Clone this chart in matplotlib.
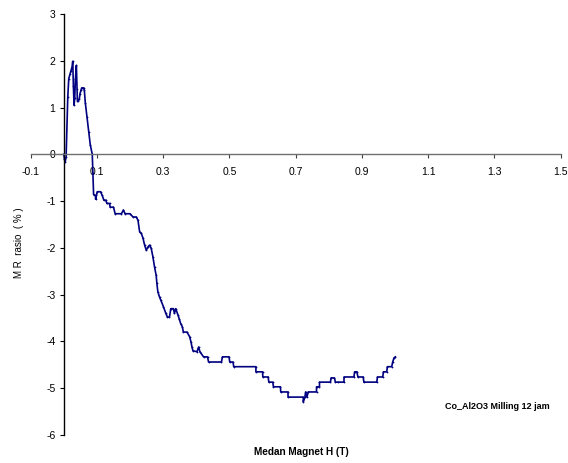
import matplotlib
matplotlib.use('Agg')
import matplotlib.pyplot as plt

# magnetoresistance sweep, Co/Al2O3 after 12 h milling
field_t = [0.000, 0.002, 0.004, 0.007, 0.012, 0.015, 0.019, 0.022, 0.025, 0.027,
           0.029, 0.031, 0.033, 0.035, 0.038, 0.040, 0.041, 0.044, 0.047, 0.049,
           0.052, 0.054, 0.060, 0.062, 0.065, 0.070, 0.075, 0.080, 0.086, 0.088,
           0.090, 0.096, 0.096, 0.101, 0.111, 0.116, 0.121, 0.127, 0.130, 0.138,
           0.140, 0.150, 0.155, 0.174, 0.180, 0.185, 0.200, 0.209, 0.219, 0.224,
           0.229, 0.234, 0.239, 0.244, 0.249, 0.254, 0.259, 0.264, 0.269, 0.274,
           0.279, 0.281, 0.284, 0.289, 0.293, 0.301, 0.308, 0.313, 0.319, 0.323,
           0.331, 0.334, 0.338, 0.345, 0.348, 0.353, 0.358, 0.361, 0.372, 0.380,
           0.384, 0.387, 0.390, 0.402, 0.407, 0.411, 0.422, 0.434, 0.437, 0.476,
           0.479, 0.499, 0.501, 0.511, 0.513, 0.580, 0.580, 0.600, 0.601, 0.617,
           0.619, 0.631, 0.633, 0.654, 0.655, 0.677, 0.677, 0.723, 0.723, 0.728,
           0.730, 0.734, 0.738, 0.763, 0.763, 0.772, 0.772, 0.805, 0.807, 0.817,
           0.820, 0.827, 0.846, 0.846, 0.876, 0.878, 0.885, 0.888, 0.904, 0.906,
           0.945, 0.947, 0.963, 0.965, 0.975, 0.977, 0.990, 0.993, 0.997, 1.001]
mr_ratio = [0.00, -0.10, -0.17, -0.05, 1.22, 1.62, 1.72, 1.79, 1.87, 1.99,
            1.45, 1.05, 1.20, 1.60, 1.90, 1.40, 1.15, 1.15, 1.19, 1.30,
            1.37, 1.42, 1.42, 1.37, 1.10, 0.80, 0.48, 0.20, 0.00, -0.40,
            -0.86, -0.88, -0.96, -0.80, -0.80, -0.88, -0.98, -0.98, -1.05, -1.05,
            -1.13, -1.13, -1.27, -1.27, -1.19, -1.27, -1.27, -1.34, -1.34, -1.41,
            -1.66, -1.69, -1.79, -1.94, -2.05, -1.98, -1.94, -2.01, -2.19, -2.41,
            -2.59, -2.76, -2.94, -3.05, -3.12, -3.26, -3.40, -3.48, -3.48, -3.30,
            -3.30, -3.40, -3.30, -3.44, -3.51, -3.62, -3.69, -3.80, -3.80, -3.90,
            -4.01, -4.12, -4.20, -4.22, -4.12, -4.22, -4.33, -4.33, -4.44, -4.44,
            -4.33, -4.33, -4.44, -4.44, -4.54, -4.54, -4.65, -4.65, -4.76, -4.76,
            -4.87, -4.87, -4.97, -4.97, -5.08, -5.08, -5.19, -5.19, -5.29, -5.19,
            -5.08, -5.19, -5.08, -5.08, -4.97, -4.97, -4.87, -4.87, -4.78, -4.78,
            -4.87, -4.87, -4.87, -4.76, -4.76, -4.65, -4.65, -4.76, -4.76, -4.87,
            -4.87, -4.76, -4.76, -4.65, -4.65, -4.54, -4.54, -4.44, -4.35, -4.33]

x_ticks = [-0.1, 0.1, 0.3, 0.5, 0.7, 0.9, 1.1, 1.3, 1.5]
y_ticks = [3, 2, 1, 0, -1, -2, -3, -4, -5, -6]

plt.rcParams['font.family'] = ['Liberation Sans', 'DejaVu Sans']

fig = plt.figure(figsize=(5.68, 4.63), dpi=100)
ax = fig.add_axes([0.054, 0.0605, 0.933, 0.9093])

ax.plot(field_t, mr_ratio, color='#000080', lw=1.2,
        marker='o', markersize=1.3, markeredgewidth=0)

ax.set_xlim(-0.1, 1.5)
ax.set_ylim(-6, 3)

# Excel-style cross axes through the origin
ax.spines['top'].set_visible(False)
ax.spines['right'].set_visible(False)
ax.spines['left'].set_position(('data', 0))
ax.spines['bottom'].set_position(('data', 0))
ax.spines['left'].set_color('black')
ax.spines['left'].set_linewidth(1.0)
ax.spines['bottom'].set_color('#707070')
ax.spines['bottom'].set_linewidth(1.0)

ax.set_xticks(x_ticks)
ax.set_xticklabels(['{:g}'.format(v) for v in x_ticks])
ax.set_yticks(y_ticks)
ax.set_yticklabels(['{:g}'.format(v) for v in y_ticks])
ax.tick_params(axis='x', direction='out', length=3, width=0.8, color='#404040',
               pad=6, labelsize=7.5)
ax.tick_params(axis='y', direction='out', length=3, width=0.8, pad=3, labelsize=7.5)

fig.text(0.034, 0.475, 'M R  rasio  ( % )', rotation=90, fontsize=7,
         ha='center', va='center')
fig.text(0.53, 0.024, 'Medan Magnet H (T)', fontsize=7.2, fontweight='bold',
         ha='center', va='center')
fig.text(0.783, 0.121, 'Co_Al2O3 Milling 12 jam', fontsize=6.5, fontweight='bold',
         ha='left', va='center')

fig.savefig('out.png', dpi=100)
